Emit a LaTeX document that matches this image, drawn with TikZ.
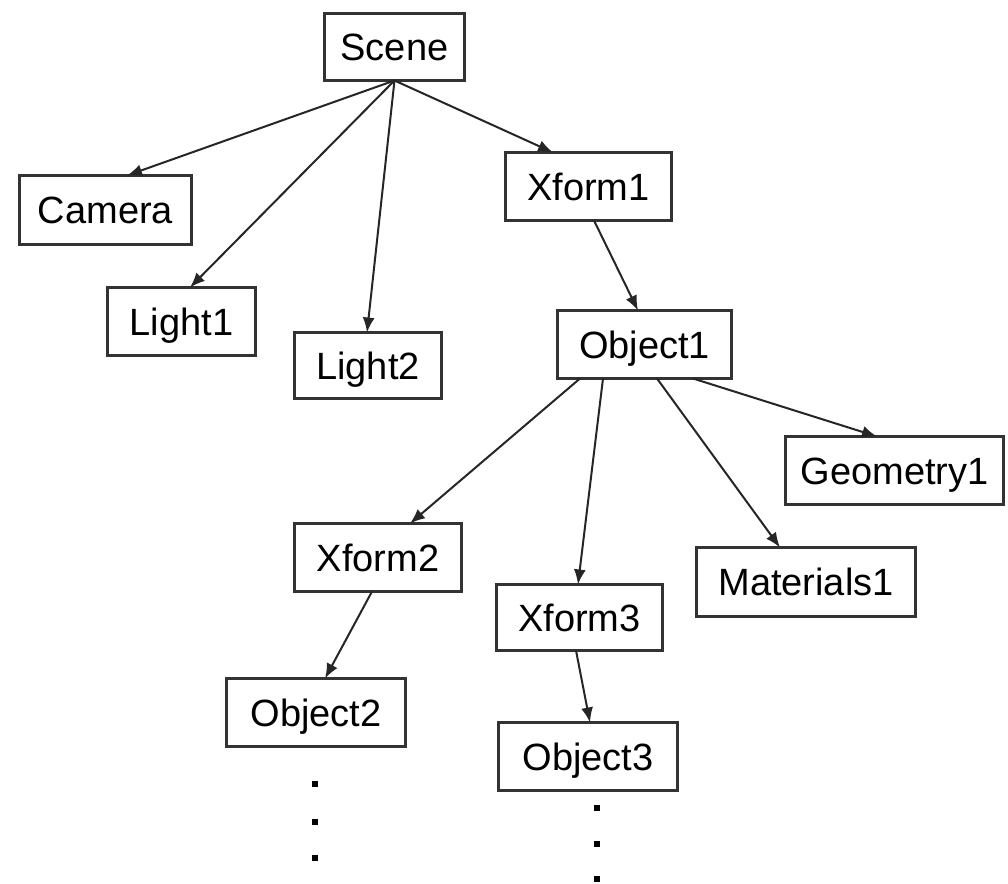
\documentclass[tikz,border=0pt]{standalone}
\usepackage{fontspec}
\setmainfont{Liberation Sans}
\usetikzlibrary{arrows.meta}
\begin{document}
\begin{tikzpicture}[x=1pt,y=-1pt,
  box/.style={draw=black!80, line width=3pt, fill=white, inner sep=0pt, outer sep=0pt,
    font=\fontsize{38}{40}\selectfont, text height=27.2pt, text depth=0pt},
  link/.style={draw=black!85, line width=2pt, -{Latex[length=15pt,width=12pt]}},
  dotmark/.style={fill=black}]
\useasboundingbox[fill=white] (0,0) rectangle (1008,883);
\node[box, minimum width=140pt, minimum height=67pt] (scene) at (394.5,47) {Scene};
\node[box, minimum width=172pt, minimum height=69pt] (camera) at (105.5,210) {Camera};
\node[box, minimum width=148pt, minimum height=68pt] (light1) at (181.5,321.5) {Light1};
\node[box, minimum width=147pt, minimum height=66pt] (light2) at (368,365.5) {Light2};
\node[box, minimum width=166pt, minimum height=68pt] (xform1) at (588.5,186.5) {Xform1};
\node[box, minimum width=174pt, minimum height=68pt] (object1) at (644.5,344.5) {Object1};
\node[box, minimum width=218pt, minimum height=68pt] (geometry1) at (894.5,470.5) {Geometry1};
\node[box, minimum width=219pt, minimum height=69pt] (materials1) at (806,582) {Materials1};
\node[box, minimum width=167pt, minimum height=68pt] (xform2) at (378,557.5) {Xform2};
\node[box, minimum width=166pt, minimum height=66pt] (xform3) at (579.5,617.5) {Xform3};
\node[box, minimum width=179pt, minimum height=68pt] (object2) at (316,712.5) {Object2};
\node[box, minimum width=179pt, minimum height=68pt] (object3) at (588,756.5) {Object3};

\draw[link] (scene.south) -- ([xshift=21.5pt]camera.north);
\draw[link] (scene.south) -- ([xshift=8.5pt]light1.north);
\draw[link] (scene.south) -- ([xshift=-1pt]light2.north);
\draw[link] (scene.south) -- ([xshift=-35.5pt]xform1.north);
\draw[link] ([xshift=5.5pt]xform1.south) -- ([xshift=-6.5pt]object1.north);
\draw[link] ([xshift=-64.5pt]object1.south) -- ([xshift=32pt]xform2.north);
\draw[link] ([xshift=-41.5pt]object1.south) -- ([xshift=-1.5pt]xform3.north);
\draw[link] ([xshift=12.5pt]object1.south) -- ([xshift=-26pt]materials1.north);
\draw[link] ([xshift=48.5pt]object1.south) -- ([xshift=-17.5pt]geometry1.north);
\draw[link] ([xshift=-6pt]xform2.south) -- ([xshift=9pt]object2.north);
\draw[link] ([xshift=-3.5pt]xform3.south) -- ([xshift=2pt]object3.north);

\foreach \yy in {784,822,858} \fill[dotmark] (312,\yy-3) rectangle (318,\yy+3);
\foreach \yy in {808,844,879} \fill[dotmark] (594,\yy-3) rectangle (600,\yy+3);
\end{tikzpicture}
\end{document}
